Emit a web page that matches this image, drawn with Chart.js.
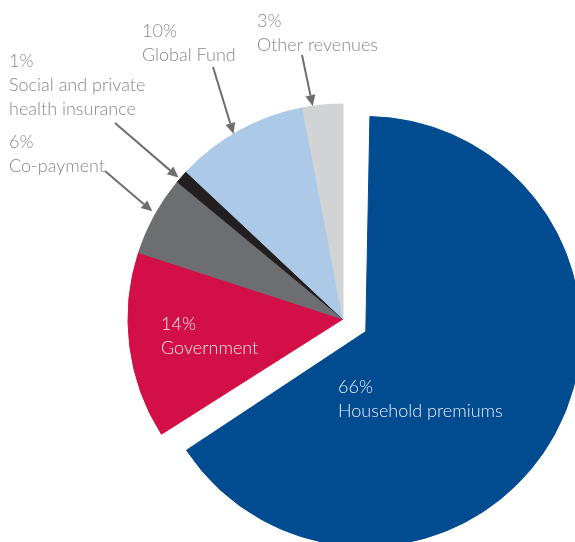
<!DOCTYPE html>
<html>
<head>
<meta charset="utf-8">
<script src="https://cdn.jsdelivr.net/npm/chart.js@4"></script>
<style>
  html, body { margin: 0; padding: 0; background: #fff; overflow: hidden; }
  #wrap { position: relative; width: 575px; height: 542px; }
</style>
</head>
<body>
<div id="wrap"><canvas id="myChart"></canvas></div>
<script>
// data
var sources = ["Household premiums", "Government", "Co-payment", "Social and private\nhealth insurance", "Global Fund", "Other revenues"];
var shares = [66, 14, 6, 1, 10, 3];
var shareLabels = ["66%", "14%", "6%", "1%", "10%", "3%"];

var sliceColors = ["#014b91", "#d20f46", "#6d6e71", "#231f20", "#adc9e8", "#d1d3d4"];

var pieRadius = 215;
var explode = 104; // chart.js moves the slice by offset/4

// where each caption sits (baseline of first line), arrow start and where on the slice it points
var captionLayout = [
  {x: 338, y: 393, inside: true},
  {x: 161, y: 330, inside: true},
  {x: 9, y: 148, from: [105, 171], tipAt: 0.53, tipPad: 4},
  {x: 9, y: 67, from: [115, 123], tipAt: 0.3, tipPad: 2},
  {x: 142, y: 37, from: [213, 67], tipAt: 0.45, tipPad: 0},
  {x: 257, y: 27, from: [302, 55], tipAt: 0.25, tipPad: 0}
];

var lineH = 24;
var captionFont = "300 18px Lato, 'Open Sans', sans-serif";

// keep the exploded slice at the same radius as the others
var explodeFix = {
  id: "explodeFix",
  beforeDatasetsDraw: function(chart) {
    chart.getDatasetMeta(0).data.forEach(function(arc) {
      var o = arc.options.offset || 0;
      if (o && arc.circumference >= Math.PI) {
        arc.outerRadius = pieRadius - o / 4;
      }
    });
  }
};

function drawArrow(ctx, x0, y0, x1, y1) {
  var a = Math.atan2(y1 - y0, x1 - x0);
  var len = 11, half = 5;
  var bx = x1 - Math.cos(a) * len, by = y1 - Math.sin(a) * len;
  ctx.beginPath();
  ctx.moveTo(x0, y0);
  ctx.lineTo(bx, by);
  ctx.stroke();
  ctx.beginPath();
  ctx.moveTo(x1, y1);
  ctx.lineTo(bx + Math.sin(a) * half, by - Math.cos(a) * half);
  ctx.lineTo(bx - Math.sin(a) * half, by + Math.cos(a) * half);
  ctx.closePath();
  ctx.fill();
}

var captions = {
  id: "captions",
  afterDatasetsDraw: function(chart) {
    var ctx = chart.ctx;
    var arcs = chart.getDatasetMeta(0).data;
    ctx.save();
    ctx.font = captionFont;
    ctx.textAlign = "left";
    ctx.textBaseline = "alphabetic";
    captionLayout.forEach(function(lay, i) {
      var lines = [shareLabels[i]].concat(sources[i].split("\n"));
      ctx.fillStyle = lay.inside ? "rgba(255,255,255,0.9)" : "#858789";
      lines.forEach(function(t, k) {
        ctx.fillText(t, lay.x, lay.y + k * lineH);
      });
      if (lay.from) {
        var arc = arcs[i];
        var ang = arc.startAngle + (arc.endAngle - arc.startAngle) * lay.tipAt;
        var r = pieRadius + lay.tipPad;
        ctx.strokeStyle = "#6d6e71";
        ctx.fillStyle = "#6d6e71";
        ctx.lineWidth = 2;
        drawArrow(ctx, lay.from[0], lay.from[1], arc.x + Math.cos(ang) * r, arc.y + Math.sin(ang) * r);
      }
    });
    ctx.restore();
  }
};

var ctx = document.getElementById("myChart").getContext("2d");

var pieChart = new Chart(ctx, {
  type: "pie",
  data: {
    labels: sources,
    datasets: [{
      data: shares,
      backgroundColor: sliceColors,
      borderColor: sliceColors,
      borderWidth: 1,
      offset: shares.map(function(v, i) { return i === 0 ? explode : 0; })
    }]
  },
  options: {
    responsive: true,
    maintainAspectRatio: false,
    animation: false,
    radius: pieRadius,
    layout: {
      padding: { left: 111, top: 96, right: 0, bottom: 0 }
    },
    plugins: {
      legend: { display: false },
      tooltip: { enabled: false }
    }
  },
  plugins: [explodeFix, captions]
});
</script>
</body>
</html>
